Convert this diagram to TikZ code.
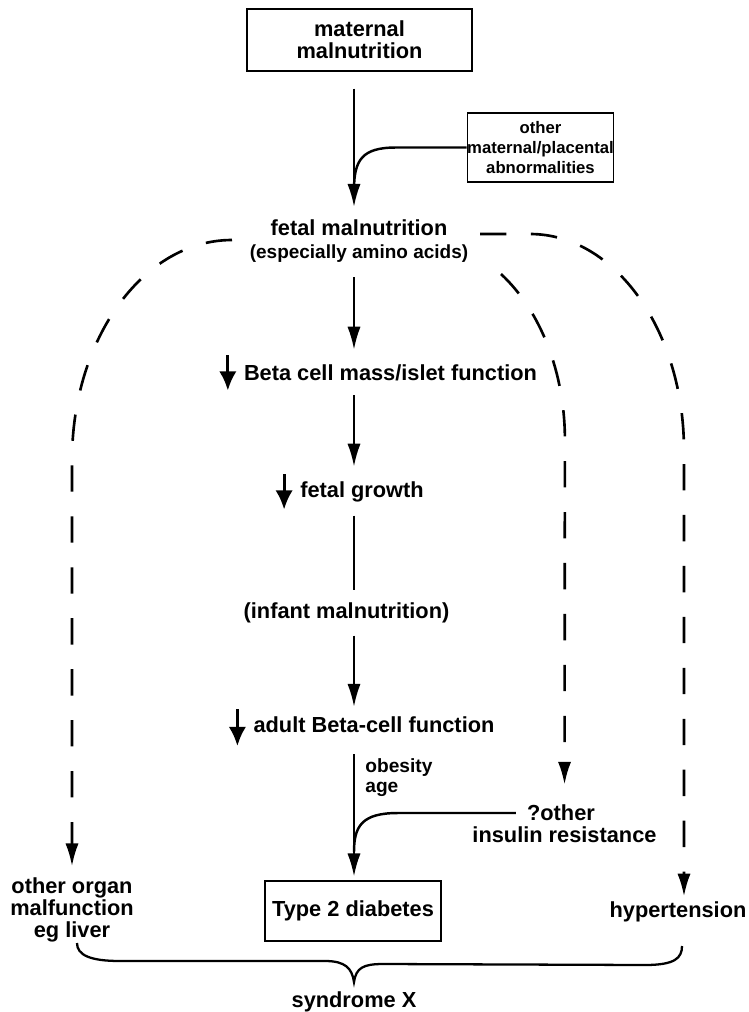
\documentclass[tikz,border=0pt]{standalone}
\usepackage{fontspec}
\setmainfont{Liberation Sans}
\usetikzlibrary{arrows.meta}

\tikzset{
  lbl/.style={inner sep=0pt,align=center,font=\bfseries\fontsize{12.4}{12.6}\selectfont},
  boxed/.style={draw,line width=0.8pt,inner sep=0pt,align=center,font=\bfseries\fontsize{12.4}{12.6}\selectfont},
  arr/.style={line width=1.1pt,-{Latex[length=13pt,width=7.5pt]}},
  feed/.style={line width=1.4pt},
  dasharr/.style={line width=1.5pt,dash pattern=on 15pt off 14pt,-{Latex[length=13pt,width=7.5pt]}},
  dn/.style={line width=1.8pt,-{Latex[length=11pt,width=10pt]}}
}

\begin{document}
\begin{tikzpicture}[x=0.02cm,y=0.02cm]
  \useasboundingbox (0,0) rectangle (748,-1012);
  \coordinate (col) at (354,0);
  \coordinate (rt) at (684,0);

  \node[boxed,minimum width=4.5cm,minimum height=1.24cm] (mm) at (359.5,-40) {maternal\\malnutrition};
  \node[boxed,minimum width=2.7cm,minimum height=1.38cm,font=\bfseries\fontsize{9.5}{11.4}\selectfont] (oth) at (540.5,-147.5) {other\\maternal/placental\\abnormalities};
  \node[lbl] (fm) at (359,-241) {fetal malnutrition\\{\fontsize{10.8}{12.5}\selectfont (especially amino acids)}};
  \node[lbl] (beta) at (390.5,-373) {Beta cell mass/islet function};
  \node[lbl] (fg) at (362,-492) {fetal growth};
  \node[lbl] (inf) at (346.5,-613) {(infant malnutrition)};
  \node[lbl] (adult) at (374,-725) {adult Beta-cell function};
  \node[lbl,align=left,anchor=west,font=\bfseries\fontsize{10.9}{11.4}\selectfont] (ob) at (365,-778) {obesity\\age};
  \node[lbl] (q) at (561,-813) {?other};
  \node[lbl] (ir) at (564.5,-835) {insulin resistance};
  \node[boxed,minimum width=3.52cm,minimum height=1.2cm] (t2d) at (353,-911) {Type 2 diabetes};
  \node[lbl] (org) at (72,-910) {other organ\\malfunction\\eg liver};
  \node[lbl] (hyp) at (678,-912) {hypertension};
  \node[lbl] (sx) at (354,-1002) {syndrome X};

  \draw[dn] (beta.west) ++(-9pt,10pt) -- ++(0,-20pt);
  \draw[dn] (fg.west) ++(-9pt,10pt) -- ++(0,-20pt);
  \draw[dn] (adult.west) ++(-9pt,9pt) -- ++(0,-21pt);

  \draw[arr,shorten <=0.34cm,shorten >=0.26cm] (mm.south -| col) -- (fm.north -| col);
  \draw[arr,shorten <=0.3cm,shorten >=0.3cm] (fm.south -| col) -- (beta.north -| col);
  \draw[arr,shorten <=0.28cm,shorten >=0.3cm] (beta.south -| col) -- (fg.north -| col);
  \draw[line width=1.1pt,shorten <=0.26cm,shorten >=0.26cm] (fg.south -| col) -- (inf.north -| col);
  \draw[arr,shorten <=0.24cm,shorten >=0.2cm] (inf.south -| col) -- (adult.north -| col);
  \draw[arr,shorten <=0.42cm,shorten >=0.08cm] (adult.south -| col) -- (t2d.north -| col);

  \coordinate (j1) at (354,-190);
  \coordinate (j2) at (354,-852);
  \draw[feed] (oth.west) -- (396,-147.5) .. controls (362,-147.5) and (354,-160) .. (j1);
  \draw[feed,shorten <=0.22cm] (q.west) -- (398,-813) .. controls (362,-813) and (354,-826) .. (j2);

  \coordinate (lft) at (232,-240);
  \coordinate (rgt) at (480,-234);
  \coordinate (mid) at (501,-274);
  \draw[dasharr,shorten >=0.22cm] (lft) arc[start angle=90,end angle=180,x radius=3.2cm,y radius=4.4cm] -- (org.north);
  \draw[dasharr,shorten >=0.1cm] (rgt) -- (530,-234) arc[start angle=90,end angle=0,x radius=3.08cm,y radius=4.32cm] -- (hyp.north -| rt);
  \draw[dasharr,shorten >=0.4cm] (mid) arc[start angle=56,end angle=0,x radius=2.9cm,y radius=4cm] -- (q.north -| ir);

  \draw[line width=1.3pt] (77,-943) .. controls (77,-955) and (90,-961) .. (120,-961) -- (325,-961)
    .. controls (345,-961) and (352,-968) .. (354,-982)
    .. controls (356,-968) and (363,-964) .. (383,-964) -- (645,-965)
    .. controls (675,-965) and (682,-958) .. (682,-946);
\end{tikzpicture}
\end{document}
